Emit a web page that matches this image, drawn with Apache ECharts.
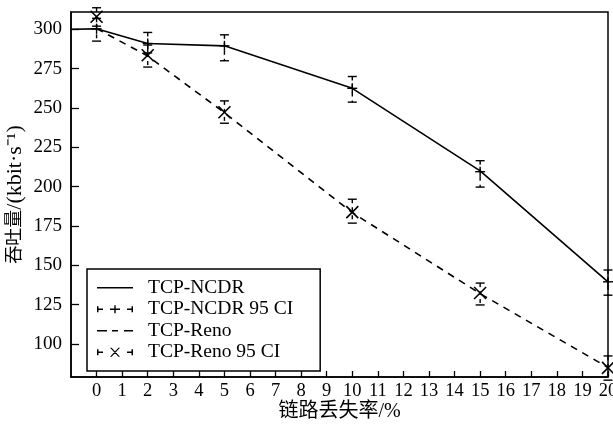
<!DOCTYPE html>
<html>
<head>
<meta charset="utf-8">
<script src="https://cdn.jsdelivr.net/npm/echarts@6/dist/echarts.min.js"></script>
<style>
  html, body { margin: 0; padding: 0; background: #fff; }
  #chart { width: 613px; height: 426px; }
</style>
</head>
<body>
<div id="chart"></div>
<script>
// 链路丢失率 (%)
const lossRate = [0, 2, 5, 10, 15, 20];
// TCP-NCDR 曲线 (从左边框开始)
const ncdrLineX = [-1, 0, 2, 5, 10, 15, 20];
const ncdrLineY = [300, 300.3, 291, 289.5, 262.5, 210, 139.5];
// TCP-NCDR 95 CI
const ncdrMid = [300.3, 291, 289.5, 262.5, 209.5, 139.5];
const ncdrLow = [292.5, 285, 280, 253.7, 199.7, 131];
const ncdrHigh = [307, 298, 296.5, 270, 216.5, 147];
// TCP-Reno 曲线
const renoLineY = [300.5, 283, 247, 183.5, 132, 85];
// TCP-Reno 95 CI
const renoMid = [308, 283.5, 247.3, 183.8, 132.4, 84.8];
const renoLow = [302, 276, 240.3, 176.8, 124.8, 77];
const renoHigh = [313.7, 290, 254.5, 192, 138.7, 92.4];
// 刻度
const xTicks = [0, 1, 2, 3, 4, 5, 6, 7, 8, 9, 10, 11, 12, 13, 14, 15, 16, 17, 18, 19, 20];
const yTicks = [100, 125, 150, 175, 200, 225, 250, 275, 300];

const serif = '"Liberation Serif", "Times New Roman", "Noto Sans CJK SC", serif';
const ink = { stroke: '#000', lineWidth: 1.4 };

// 误差棒: 上下帽 + 虚线竖线 + 中心标记
function ciRenderer(mark) {
  return function (params, api) {
    const x = api.value(0);
    const pm = api.coord([x, api.value(1)]);
    const pl = api.coord([x, api.value(2)]);
    const ph = api.coord([x, api.value(3)]);
    const cap = 4.5;
    const kids = [
      { type: 'line', shape: { x1: ph[0] - cap, y1: ph[1], x2: ph[0] + cap, y2: ph[1] }, style: ink },
      { type: 'line', shape: { x1: pl[0] - cap, y1: pl[1], x2: pl[0] + cap, y2: pl[1] }, style: ink },
      { type: 'line', shape: { x1: ph[0], y1: ph[1], x2: pl[0], y2: pl[1] },
        style: Object.assign({ lineDash: [4, 4] }, ink) }
    ];
    if (mark === 'plus') {
      const s = 5;
      kids.push({ type: 'line', shape: { x1: pm[0] - s, y1: pm[1], x2: pm[0] + s, y2: pm[1] }, style: ink });
      kids.push({ type: 'line', shape: { x1: pm[0], y1: pm[1] - s, x2: pm[0], y2: pm[1] + s }, style: ink });
    } else {
      const s = 6;
      kids.push({ type: 'line', shape: { x1: pm[0] - s, y1: pm[1] - s, x2: pm[0] + s, y2: pm[1] + s }, style: { stroke: '#000', lineWidth: 1.6 } });
      kids.push({ type: 'line', shape: { x1: pm[0] - s, y1: pm[1] + s, x2: pm[0] + s, y2: pm[1] - s }, style: { stroke: '#000', lineWidth: 1.6 } });
    }
    return { type: 'group', children: kids };
  };
}

const box = 'M0,0M36,12';
const icons = {
  solid: 'path://' + box + 'M0,5.2H36V6.8H0Z',
  dashed: 'path://' + box + 'M0,5.2H10V6.8H0ZM15,5.2H21V6.8H15ZM27,5.2H36V6.8H27Z',
  ncdrCi: 'path://' + box + 'M0,3H1.5V9H0ZM0,5.3H6V6.7H0ZM34.5,3H36V9H34.5ZM30,5.3H36V6.7H30Z' +
    'M17.3,2H18.7V10H17.3ZM13,5.3H23V6.7H13Z',
  renoCi: 'path://' + box + 'M0,3H1.5V9H0ZM0,5.3H6V6.7H0ZM34.5,3H36V9H34.5ZM30,5.3H36V6.7H30Z' +
    'M13,1.5L14.6,1.5L23,10.5L21.4,10.5ZM21.4,1.5L23,1.5L14.6,10.5L13,10.5Z'
};

const chart = echarts.init(document.getElementById('chart'));
chart.setOption({
  animation: false,
  grid: {
    left: 71, right: 5, top: 12, bottom: 49,
    containLabel: false,
    outerBoundsMode: 'none',
    show: true, borderColor: '#000', borderWidth: 1.5
  },
  legend: {
    orient: 'vertical',
    left: 87, top: 269,
    padding: [9, 27, 9, 10],
    borderColor: '#000', borderWidth: 1.5,
    backgroundColor: '#fff',
    itemWidth: 36, itemHeight: 12, itemGap: 2,
    textStyle: { color: '#000', fontFamily: serif, fontSize: 19.5, padding: [0, 0, 0, 10] },
    data: [
      { name: 'TCP-NCDR', icon: icons.solid },
      { name: 'TCP-NCDR 95 CI', icon: icons.ncdrCi },
      { name: 'TCP-Reno', icon: icons.dashed },
      { name: 'TCP-Reno 95 CI', icon: icons.renoCi }
    ]
  },
  xAxis: {
    type: 'value',
    min: -1, max: 20,
    name: '链路丢失率/%',
    nameLocation: 'middle', nameGap: 25,
    nameMoveOverlap: false,
    nameTextStyle: { color: '#000', fontFamily: serif, fontSize: 20 },
    axisLine: { onZero: false, lineStyle: { color: '#000', width: 1.5 } },
    axisTick: { inside: true, length: 6, customValues: xTicks, lineStyle: { color: '#000', width: 1.3 } },
    axisLabel: { customValues: xTicks, color: '#000', fontFamily: serif, fontSize: 18.5, margin: 5 },
    splitLine: { show: false }
  },
  yAxis: {
    type: 'value',
    min: 79, max: 311,
    name: '{c|吞吐量}{l|/(kbit·s⁻¹)}',
    nameLocation: 'middle', nameRotate: 90, nameGap: 45,
    nameMoveOverlap: false,
    nameTextStyle: {
      color: '#000', fontFamily: serif, fontSize: 19,
      rich: {
        c: { fontFamily: serif, fontSize: 18, color: '#000' },
        l: { fontFamily: serif, fontSize: 22, color: '#000' }
      }
    },
    axisLine: { show: true, onZero: false, lineStyle: { color: '#000', width: 1.5 } },
    axisTick: { show: true, inside: true, length: 8, customValues: yTicks, lineStyle: { color: '#000', width: 1.3 } },
    axisLabel: { customValues: yTicks, color: '#000', fontFamily: serif, fontSize: 19, margin: 9 },
    splitLine: { show: false }
  },
  series: [
    {
      name: 'TCP-NCDR',
      type: 'line',
      data: ncdrLineX.map((x, i) => [x, ncdrLineY[i]]),
      symbol: 'none',
      lineStyle: { color: '#000', width: 1.6 },
      itemStyle: { color: '#000' }
    },
    {
      name: 'TCP-NCDR 95 CI',
      type: 'custom',
      data: lossRate.map((x, i) => [x, ncdrMid[i], ncdrLow[i], ncdrHigh[i]]),
      encode: { x: 0, y: 1 },
      renderItem: ciRenderer('plus'),
      itemStyle: { color: '#000' },
      z: 3
    },
    {
      name: 'TCP-Reno',
      type: 'line',
      data: lossRate.map((x, i) => [x, renoLineY[i]]),
      symbol: 'none',
      lineStyle: { color: '#000', width: 1.6, type: [7, 6] },
      itemStyle: { color: '#000' }
    },
    {
      name: 'TCP-Reno 95 CI',
      type: 'custom',
      data: lossRate.map((x, i) => [x, renoMid[i], renoLow[i], renoHigh[i]]),
      encode: { x: 0, y: 1 },
      renderItem: ciRenderer('cross'),
      itemStyle: { color: '#000' },
      z: 3
    }
  ]
});
</script>
</body>
</html>
